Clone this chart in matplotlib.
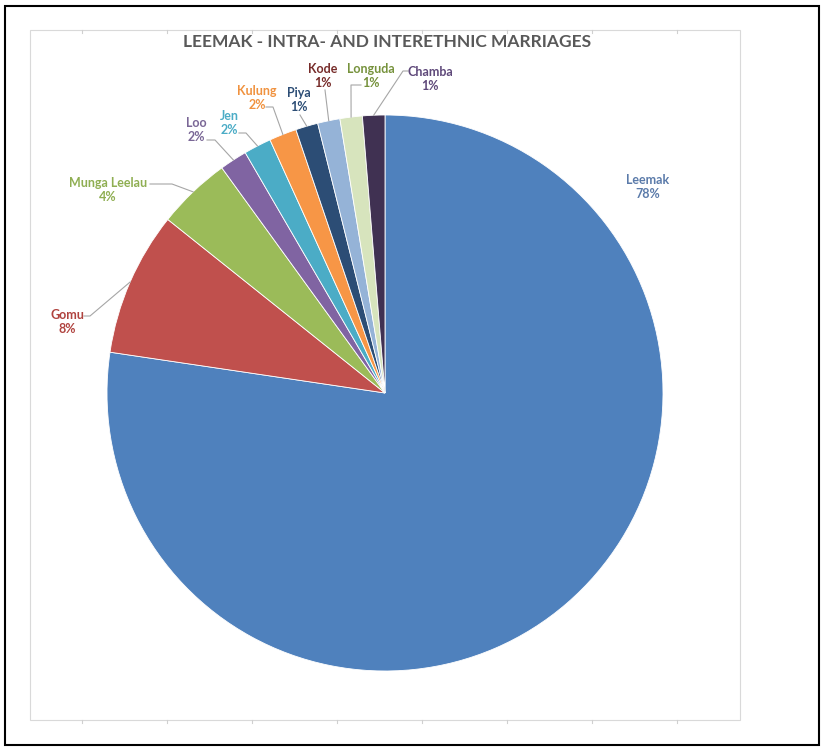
import numpy as np
import matplotlib
matplotlib.use('Agg')
import matplotlib.pyplot as plt
from matplotlib.patches import Rectangle

# Daten (Anteile in %)
groups = ['Leemak', 'Gomu', 'Munga Leelau', 'Loo', 'Jen', 'Kulung',
          'Piya', 'Kode', 'Longuda', 'Chamba']
shares = [77.5, 8.4, 4.3, 1.6, 1.6, 1.6, 1.3, 1.3, 1.3, 1.3]
pct_labels = ['78%', '8%', '4%', '2%', '2%', '2%', '1%', '1%', '1%', '1%']

slice_colors = ['#4F81BD', '#C0504D', '#9BBB59', '#8064A2', '#4BACC6',
                '#F79646', '#2C4D75', '#95B3D7', '#D7E4BD', '#403152']
text_colors = ['#5B7BAA', '#B0433F', '#8FAE52', '#7A6796', '#4BACC6',
               '#F0923F', '#2C4D75', '#772C2A', '#76923C', '#5F497A']

# Position der Beschriftungen (Pixel, y von oben)
label_pos = [(648, 187), (67, 322), (108, 190), (196, 130), (229, 123),
             (257, 98), (299, 100), (323, 76), (371, 76), (430, 79)]
# Startpunkt der Führungslinie + Knickpunkt (Pixel, y von oben)
lead_start = [None, (84, 316), (150, 184), (207, 140), (239, 133),
              (266, 107), (300, 115), (325, 90), (361, 85), (408, 71)]
lead_knee = [None, (90, 316), (172, 184), (215, 140), (246, 133),
             (273, 107), None, None, (351, 85), (403, 71)]

W, H = 825, 750
plt.rcParams['font.family'] = ['Lato', 'DejaVu Sans']
fig = plt.figure(figsize=(8.25, 7.5), dpi=100)
ax = fig.add_axes([0, 0, 1, 1])

cx, cy, r = 385, H - 393, 278
wedges, _ = ax.pie(shares, colors=slice_colors, startangle=90, counterclock=False,
                   center=(cx, cy), radius=r, frame=True,
                   wedgeprops=dict(edgecolor='white', linewidth=0.6))
ax.set_xlim(0, W)
ax.set_ylim(0, H)
ax.set_aspect('equal')
ax.axis('off')

# Rahmen
ax.add_patch(Rectangle((5, 5), W - 11, H - 11, fill=False, ec='black', lw=1.5))
ax.add_patch(Rectangle((30, H - 720), 710, 690, fill=False, ec='#D9D9D9', lw=0.8))
for xt in np.arange(30 + 52, 740, 85):
    ax.plot([xt, xt], [H - 30, H - 33], color='#D0D0D0', lw=0.8)
    ax.plot([xt, xt], [H - 720, H - 723], color='#D0D0D0', lw=0.8)

ax.text(387, H - 42, 'LEEMAK - INTRA- AND INTERETHNIC MARRIAGES', ha='center', va='center',
        fontsize=12.5, fontweight='bold', color='#595959')

for i, w in enumerate(wedges):
    lx, ly = label_pos[i]
    ax.text(lx, H - ly, groups[i] + '\n' + pct_labels[i], ha='center', va='center',
            fontsize=9, fontweight='bold', color=text_colors[i], linespacing=1.25)
    if lead_start[i] is None:
        continue
    ang = np.deg2rad((w.theta1 + w.theta2) / 2)
    ex = cx + r * np.cos(ang)
    ey = cy + r * np.sin(ang)
    xs = [lead_start[i][0]]
    ys = [H - lead_start[i][1]]
    if lead_knee[i] is not None:
        xs.append(lead_knee[i][0])
        ys.append(H - lead_knee[i][1])
    xs.append(ex)
    ys.append(ey)
    ax.plot(xs, ys, color='#A6A6A6', lw=0.8)

fig.savefig('out.png', dpi=100)
